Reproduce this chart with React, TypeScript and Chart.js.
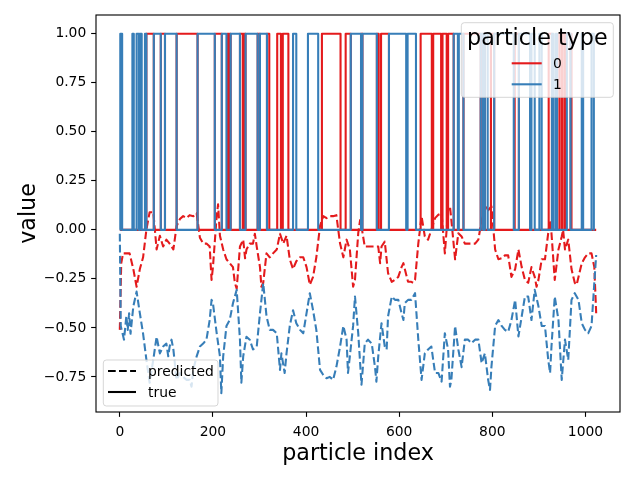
import { useEffect, useRef } from 'react'
import Chart from 'chart.js/auto'

const RED = '#e41a1c'
const BLUE = '#377eb8'
const FONT = '"DejaVu Sans", sans-serif'
const PT = 100 / 72 // matplotlib points -> pixels at 100 dpi

// true particle type, as runs along the index axis (2 = neither type)
const RUN_START = [
  0, 1, 5, 27, 30, 36, 41, 43, 47, 54,
  57, 73, 88, 97, 122, 167, 204, 219, 229, 231,
  234, 236, 238, 258, 264, 266, 270, 296, 301, 316,
  321, 338, 346, 350, 362, 372, 379, 404, 426, 434,
  474, 485, 496, 518, 521, 552, 556, 561, 578, 615,
  618, 636, 646, 670, 673, 690, 693, 702, 705, 717,
  726, 728, 738, 775, 780, 784, 790, 797, 804, 846,
  848, 857, 881, 884, 891, 901, 906, 921, 928, 931,
  936, 939, 944, 949, 951, 956, 960, 968, 970, 992,
  995, 1013, 1018,
]
const RUN_TYPE = [
  2, 1, 2, 1, 2, 1, 2, 1, 2, 1,
  0, 1, 0, 1, 0, 1, 0, 1, 2, 0,
  2, 0, 1, 0, 2, 0, 1, 0, 1, 0,
  2, 0, 2, 0, 2, 1, 2, 1, 2, 0,
  2, 0, 1, 0, 1, 0, 2, 0, 1, 2,
  1, 2, 0, 2, 0, 2, 0, 2, 0, 1,
  2, 1, 0, 1, 0, 1, 2, 0, 1, 2,
  0, 1, 2, 1, 2, 1, 2, 0, 1, 2,
  1, 2, 0, 2, 0, 2, 1, 0, 2, 1,
  2, 1, 2,
]
const TRUE_END = [1023, 1018]

// predicted value for type 0
const PRED0_X = [
  0, 3, 7, 14, 21, 29, 36, 43, 50, 57, 64, 72, 79, 86, 93, 100, 107, 115, 122, 129,
  136, 143, 150, 158, 165, 172, 179, 186, 193, 197, 200, 208, 211, 215, 222, 229, 236, 243, 247, 251,
  258, 265, 269, 272, 279, 286, 290, 294, 301, 304, 308, 315, 322, 329, 337, 344, 351, 358, 365, 372,
  379, 387, 394, 401, 408, 415, 422, 430, 437, 444, 451, 458, 465, 473, 480, 487, 494, 501, 505, 512,
  516, 519, 526, 533, 541, 548, 555, 559, 562, 569, 576, 584, 591, 598, 605, 609, 612, 619, 626, 630,
  634, 641, 648, 655, 662, 669, 677, 684, 691, 698, 705, 709, 712, 720, 727, 734, 741, 748, 755, 763,
  770, 777, 784, 788, 791, 798, 806, 813, 820, 827, 834, 841, 849, 856, 863, 870, 877, 884, 891, 895,
  899, 906, 913, 920, 924, 927, 934, 942, 949, 952, 956, 963, 970, 977, 981, 985, 992, 999, 1006, 1013,
  1019, 1023,
]
const PRED0_Y = [
  -0.51, -0.17, -0.12, -0.12, -0.12, -0.2, -0.29, -0.2, -0.14, 0.0, 0.09, 0.09, -0.1, -0.03, -0.085, -0.05, -0.07, -0.1, 0.02, 0.055,
  0.07, 0.06, 0.075, 0.07, 0.085, -0.04, -0.07, -0.07, -0.085, -0.255, -0.19, 0.07, 0.13, -0.03, -0.1, -0.15, -0.17, -0.19, -0.27, -0.3,
  -0.085, -0.05, -0.145, -0.1, -0.07, -0.07, -0.02, -0.085, -0.19, -0.29, -0.27, -0.12, -0.14, -0.12, -0.1, -0.02, -0.07, -0.03, -0.15, -0.2,
  -0.16, -0.14, -0.14, -0.19, -0.28, -0.24, -0.14, 0.02, 0.07, 0.06, 0.07, 0.07, 0.075, -0.07, -0.14, -0.05, -0.1, -0.29, -0.255, -0.017,
  0.05, 0.017, -0.085, -0.085, -0.085, -0.085, -0.085, -0.17, -0.085, -0.06, -0.22, -0.265, -0.255, -0.24, -0.19, -0.17, -0.2, -0.265, -0.265, -0.27,
  -0.255, -0.07, 0.07, -0.034, -0.05, 0.0, 0.06, 0.077, 0.085, -0.12, 0.1, 0.12, 0.05, -0.15, -0.017, -0.034, -0.07, -0.07, -0.07, -0.07,
  -0.05, 0.05, 0.1, 0.12, 0.1, 0.12, -0.1, -0.15, -0.145, -0.13, -0.13, -0.24, -0.2, -0.1, -0.19, -0.255, -0.27, -0.19, -0.24, -0.29,
  -0.255, -0.15, -0.15, -0.017, 0.05, -0.017, -0.255, -0.1, -0.034, 0.0, -0.1, -0.05, -0.2, -0.27, -0.28, -0.24, -0.17, -0.14, -0.12, -0.12,
  -0.19, -0.425,
]

// predicted value for type 1
const PRED1_X = [
  0, 2, 6, 9, 14, 17, 20, 23, 29, 36, 43, 50, 57, 64, 72, 79, 86, 93, 100, 104,
  107, 111, 115, 122, 129, 136, 143, 150, 154, 158, 165, 172, 179, 186, 193, 197, 200, 208, 215, 218,
  222, 229, 236, 243, 251, 258, 261, 265, 272, 279, 286, 294, 301, 308, 315, 322, 329, 337, 344, 347,
  354, 358, 365, 372, 379, 387, 394, 401, 408, 415, 422, 430, 437, 444, 451, 458, 465, 473, 480, 487,
  490, 494, 501, 505, 512, 519, 526, 533, 541, 548, 551, 555, 562, 569, 573, 576, 584, 591, 598, 605,
  609, 612, 619, 626, 634, 641, 648, 655, 662, 669, 677, 684, 691, 698, 705, 709, 712, 720, 727, 734,
  741, 748, 755, 763, 770, 777, 784, 791, 795, 798, 806, 813, 820, 827, 834, 841, 849, 856, 863, 870,
  877, 884, 891, 899, 906, 913, 920, 924, 927, 934, 942, 949, 956, 963, 970, 977, 985, 992, 999, 1006,
  1013, 1019, 1023,
]
const PRED1_Y = [
  -0.02, -0.49, -0.53, -0.56, -0.44, -0.51, -0.425, -0.53, -0.39, -0.315, -0.425, -0.53, -0.66, -0.78, -0.66, -0.545, -0.63, -0.595, -0.58, -0.645,
  -0.595, -0.56, -0.61, -0.765, -0.73, -0.75, -0.765, -0.765, -0.8, -0.71, -0.645, -0.595, -0.58, -0.56, -0.46, -0.357, -0.374, -0.527, -0.645, -0.833,
  -0.645, -0.49, -0.46, -0.374, -0.306, -0.56, -0.78, -0.645, -0.545, -0.56, -0.61, -0.595, -0.425, -0.272, -0.44, -0.51, -0.51, -0.527, -0.714, -0.63,
  -0.73, -0.63, -0.49, -0.41, -0.476, -0.51, -0.527, -0.425, -0.323, -0.41, -0.51, -0.714, -0.74, -0.757, -0.75, -0.765, -0.7, -0.595, -0.49, -0.56,
  -0.73, -0.645, -0.49, -0.34, -0.527, -0.79, -0.58, -0.56, -0.58, -0.7, -0.774, -0.645, -0.476, -0.595, -0.61, -0.442, -0.34, -0.357, -0.357, -0.425,
  -0.46, -0.374, -0.357, -0.357, -0.323, -0.56, -0.765, -0.63, -0.61, -0.595, -0.73, -0.73, -0.774, -0.527, -0.61, -0.8, -0.765, -0.49, -0.61, -0.7,
  -0.56, -0.56, -0.578, -0.56, -0.56, -0.68, -0.63, -0.765, -0.816, -0.7, -0.49, -0.46, -0.49, -0.51, -0.52, -0.46, -0.357, -0.544, -0.442, -0.34,
  -0.34, -0.46, -0.306, -0.39, -0.49, -0.49, -0.663, -0.73, -0.595, -0.34, -0.46, -0.765, -0.56, -0.663, -0.357, -0.323, -0.357, -0.476, -0.51, -0.527,
  -0.49, -0.27, -0.128,
]

const X_TICKS = [0, 200, 400, 600, 800, 1000]
const Y_TICKS = [-0.75, -0.5, -0.25, 0, 0.25, 0.5, 0.75, 1]
const Y_TICK_LABELS = ['\u22120.75', '\u22120.50', '\u22120.25', '0.00', '0.25', '0.50', '0.75', '1.00']
const X_RANGE = [-51.15, 1074.15]
const Y_RANGE = [-0.929, 1.096]

const TYPE_LABELS = ['0', '1']
const TYPE_COLORS = [RED, BLUE]
const TYPE_TITLE = 'particle type'
const STYLE_LABELS = ['predicted', 'true']

const LW = 1.5 * PT
const DASH = [3.7 * LW, 1.6 * LW]

function truePoints(type: number) {
  const pts: { x: number; y: number }[] = []
  for (let i = 0; i < RUN_START.length; i++) {
    const start = RUN_START[i]
    const end = i + 1 < RUN_START.length ? RUN_START[i + 1] : TRUE_END[type]
    const y = RUN_TYPE[i] === type ? 1 : 0
    pts.push({ x: start, y }, { x: end, y })
  }
  return pts
}

function zip(xs: number[], ys: number[]) {
  return xs.map((x, i) => ({ x, y: ys[i] }))
}

function frame(ctx: CanvasRenderingContext2D, x: number, y: number, w: number, h: number) {
  ctx.beginPath()
  ctx.roundRect(x, y, w, h, 3)
  ctx.fillStyle = 'rgba(255,255,255,0.8)'
  ctx.fill()
  ctx.strokeStyle = 'rgba(204,204,204,0.8)'
  ctx.lineWidth = 1
  ctx.stroke()
}

function handle(ctx: CanvasRenderingContext2D, x0: number, x1: number, y: number, color: string, dash: number[]) {
  ctx.beginPath()
  ctx.setLineDash(dash)
  ctx.strokeStyle = color
  ctx.lineWidth = LW
  ctx.moveTo(x0, y)
  ctx.lineTo(x1, y)
  ctx.stroke()
  ctx.setLineDash([])
}

const legendPlugin = {
  id: 'mplLegends',
  afterDraw(chart: Chart) {
    const { ctx, chartArea: a } = chart
    ctx.save()

    // axes frame
    ctx.strokeStyle = '#000'
    ctx.lineWidth = 0.8 * PT
    ctx.strokeRect(a.left, a.top, a.right - a.left, a.bottom - a.top)

    // particle type legend, upper right
    const w1 = 152
    const x1 = a.right - 6.7 - w1
    const y1 = a.top + 7.7
    frame(ctx, x1, y1, w1, 74.6)
    ctx.fillStyle = '#000'
    ctx.textAlign = 'center'
    ctx.textBaseline = 'alphabetic'
    ctx.font = `${16 * PT}px ${FONT}`
    ctx.fillText(TYPE_TITLE, x1 + w1 / 2, y1 + 22.3)
    ctx.font = `${10 * PT}px ${FONT}`
    ctx.textAlign = 'left'
    TYPE_LABELS.forEach((label, i) => {
      const yy = y1 + 40.6 + i * 21
      handle(ctx, x1 + 50.4, x1 + 80.4, yy, TYPE_COLORS[i], [])
      ctx.fillStyle = '#000'
      ctx.fillText(label, x1 + 91.7, yy + 5.1)
    })

    // line style legend, lower left
    const h2 = 46
    const x2 = a.left + 7.3
    const y2 = a.bottom - 6 - h2
    frame(ctx, x2, y2, 114.7, h2)
    STYLE_LABELS.forEach((label, i) => {
      const yy = y2 + 11 + i * 21
      handle(ctx, x2 + 4.7, x2 + 32.7, yy, '#000', i === 0 ? DASH : [])
      ctx.fillStyle = '#000'
      ctx.fillText(label, x2 + 44.7, yy + 4.7)
    })

    ctx.restore()
  },
}

export default function App() {
  const canvasRef = useRef<HTMLCanvasElement>(null)
  const chartRef = useRef<Chart | null>(null)

  useEffect(() => {
    document.body.style.margin = '0'
    if (!canvasRef.current) return
    if (chartRef.current) chartRef.current.destroy()

    const line = (data: { x: number; y: number }[], color: string, dashed: boolean, order: number) => ({
      data,
      borderColor: color,
      backgroundColor: color,
      borderWidth: LW,
      borderDash: dashed ? DASH : [],
      borderJoinStyle: 'round' as const,
      pointRadius: 0,
      tension: 0,
      fill: false,
      order,
    })

    chartRef.current = new Chart(canvasRef.current, {
      type: 'line',
      data: {
        datasets: [
          line(truePoints(0), RED, false, 3),
          line(zip(PRED0_X, PRED0_Y), RED, true, 2),
          line(truePoints(1), BLUE, false, 1),
          line(zip(PRED1_X, PRED1_Y), BLUE, true, 0),
        ],
      },
      options: {
        animation: false,
        responsive: true,
        maintainAspectRatio: false,
        events: [],
        layout: { padding: { top: 15, right: 20, left: 0, bottom: 0 } },
        plugins: {
          legend: { display: false },
          tooltip: { enabled: false },
        },
        scales: {
          x: {
            type: 'linear',
            min: X_RANGE[0],
            max: X_RANGE[1],
            afterBuildTicks: (scale: any) => {
              scale.ticks = X_TICKS.map(value => ({ value }))
            },
            afterFit: (scale: any) => {
              scale.height = 68
            },
            ticks: {
              autoSkip: false,
              maxRotation: 0,
              padding: 3.5 * PT + 2,
              color: '#000',
              font: { family: FONT, size: 10 * PT },
              callback: (v: any) => String(v),
            },
            grid: {
              display: true,
              drawOnChartArea: false,
              drawTicks: true,
              tickLength: 3.5 * PT,
              tickWidth: 0.8 * PT,
              tickColor: '#000',
            },
            border: { display: false },
            title: {
              display: true,
              text: 'particle index',
              color: '#000',
              font: { family: FONT, size: 16 * PT, lineHeight: 1.2 },
              padding: { top: 0, bottom: 12.4 },
            },
          },
          y: {
            type: 'linear',
            min: Y_RANGE[0],
            max: Y_RANGE[1],
            afterBuildTicks: (scale: any) => {
              scale.ticks = Y_TICKS.map(value => ({ value }))
            },
            afterFit: (scale: any) => {
              scale.width = 96
            },
            ticks: {
              autoSkip: false,
              padding: 3.5 * PT,
              color: '#000',
              font: { family: FONT, size: 10 * PT },
              callback: (_v: any, i: number) => Y_TICK_LABELS[i],
            },
            grid: {
              display: true,
              drawOnChartArea: false,
              drawTicks: true,
              tickLength: 3.5 * PT,
              tickWidth: 0.8 * PT,
              tickColor: '#000',
            },
            border: { display: false },
            title: {
              display: true,
              text: 'value',
              color: '#000',
              font: { family: FONT, size: 16 * PT, lineHeight: 1.2 },
              padding: { top: 16.2, bottom: 0 },
            },
          },
        },
      },
      plugins: [legendPlugin],
    })

    return () => {
      if (chartRef.current) {
        chartRef.current.destroy()
        chartRef.current = null
      }
    }
  }, [])

  return (
    <div style={{ position: 'relative', width: 640, height: 480 }}>
      <canvas ref={canvasRef} />
    </div>
  )
}
